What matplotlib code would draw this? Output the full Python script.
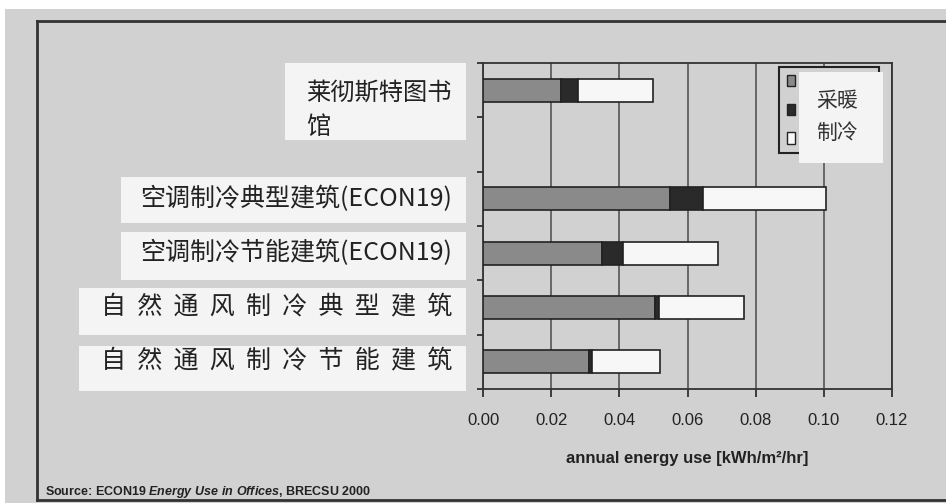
import numpy as np
import matplotlib
matplotlib.use("Agg")
import matplotlib.pyplot as plt
from matplotlib.patches import Rectangle, Patch

# building types, top to bottom (slot 1 is left empty)
labels = ['莱彻斯特图书\n馆',
          '空调制冷典型建筑(ECON19)',
          '空调制冷节能建筑(ECON19)',
          '自  然  通  风  制  冷  典  型  建  筑',
          '自  然  通  风  制  冷  节  能  建  筑']
slots = [0, 2, 3, 4, 5]

# annual energy use, kWh/m2/hr
heating = [0.023, 0.055, 0.035, 0.0505, 0.031]
aux = [0.005, 0.0095, 0.006, 0.001, 0.001]
cooling = [0.022, 0.036, 0.028, 0.025, 0.020]

xticks = [0.00, 0.02, 0.04, 0.06, 0.08, 0.10, 0.12]
legend_text = '采暖\n制冷'
xlabel = 'annual energy use [kWh/m²/hr]'
source = r'Source: ECON19 $\it{Energy\ Use\ in\ Offices}$, BRECSU 2000'

W, H = 946, 503
BG = '#d1d1d1'
INK = '#222222'
CJK = ['Noto Sans CJK SC', 'DejaVu Sans']

plt.rcParams['font.family'] = ['Liberation Sans', 'DejaVu Sans']
plt.rcParams['mathtext.fontset'] = 'custom'
plt.rcParams['mathtext.rm'] = 'Liberation Sans:bold'
plt.rcParams['mathtext.it'] = 'Liberation Sans:italic:bold'

fig = plt.figure(figsize=(W / 100, H / 100), dpi=100, facecolor='white')


def fx(px):
    return px / W


def fy(py):
    return 1 - py / H


def fig_box(x0, y0, x1, y1, **kw):
    r = Rectangle((fx(x0), fy(y1)), fx(x1) - fx(x0), fy(y0) - fy(y1),
                  transform=fig.transFigure, **kw)
    fig.patches.append(r)
    return r


def fig_line(xs, ys):
    fig.add_artist(plt.Line2D([fx(x) for x in xs], [fy(y) for y in ys],
                              transform=fig.transFigure, color='#333333', lw=2))


# scanned page background and outer frame
fig_box(5, 9, W, H, facecolor=BG, edgecolor='none', zorder=-10)
fig_line([37, 37], [21, 500])
fig_line([37, W], [21, 21])
fig_line([37, W], [500, 500])

ax = fig.add_axes([fx(483), fy(389), fx(892) - fx(483), fy(63) - fy(389)])
ax.set_facecolor(BG)

heating = np.array(heating)
aux = np.array(aux)
cooling = np.array(cooling)
bh = 0.42
ax.barh(slots, heating, height=bh, color='#8a8a8a', edgecolor=INK, lw=1.2, zorder=3)
ax.barh(slots, aux, left=heating, height=bh, color='#2a2a2a', edgecolor=INK, lw=1.2, zorder=3)
ax.barh(slots, cooling, left=heating + aux, height=bh, color='#f7f7f7', edgecolor=INK, lw=1.2, zorder=3)

ax.set_xlim(0, 0.12)
ax.set_ylim(5.5, -0.5)
ax.set_xticks(xticks)
ax.set_xticklabels([f'{v:.2f}' for v in xticks], fontsize=12, color=INK)
ax.set_yticks(np.arange(-0.5, 6.0, 1.0))
ax.set_yticklabels([])
ax.tick_params(axis='x', direction='out', length=6, width=1.2, pad=11, colors=INK)
ax.tick_params(axis='y', direction='out', length=4, width=1.2, colors=INK)
ax.xaxis.grid(True, color='#4a4a4a', lw=1.1, zorder=1)
for s in ax.spines.values():
    s.set_color('#333333')
    s.set_linewidth(1.3)
ax.set_xlabel(xlabel, fontsize=12, fontweight='bold', color=INK, labelpad=17)

# category labels on white paper strips
strips = [(285, 63, 466, 140), (121, 177, 466, 223), (121, 232, 466, 280),
          (79, 288, 466, 335), (79, 346, 466, 391)]
for (x0, y0, x1, y1) in strips:
    fig_box(x0, y0, x1, y1, facecolor='#f4f4f4', edgecolor='none', zorder=-5)

tx = (452 - 483) / 409
for lab, s in zip(labels, slots):
    if '\n' in lab:
        ax.text(tx, s - 0.2, lab, transform=ax.get_yaxis_transform(), ha='right', va='top',
                multialignment='left', linespacing=1.45, fontsize=17.5, family=CJK, color=INK)
    else:
        ax.text(tx, s, lab, transform=ax.get_yaxis_transform(), ha='right', va='center',
                fontsize=18, family=CJK, color=INK)

# legend markers, captions pasted on a white patch
handles = [Patch(facecolor='#8a8a8a', edgecolor=INK),
           Patch(facecolor='#2a2a2a', edgecolor=INK),
           Patch(facecolor='#f7f7f7', edgecolor=INK)]
leg = ax.legend(handles, ['', '', ''], loc='upper left',
                bbox_to_anchor=(fx(779), fy(67)), bbox_transform=fig.transFigure,
                fontsize=10, borderpad=0.55, handlelength=0.6, handleheight=0.85,
                handletextpad=5.5, labelspacing=1.05, borderaxespad=0,
                fancybox=False, framealpha=1, facecolor=BG, edgecolor='#222222')
leg.get_frame().set_linewidth(1.5)
leg.set_zorder(5)

fig_box(799, 72, 883, 163, facecolor='#f4f4f4', edgecolor='none', zorder=6)
fig.text(fx(837), fy(117), legend_text, ha='center', va='center', linespacing=1.6,
         fontsize=15, family=CJK, color='#333333', zorder=7)

# source line
fig.text(fx(45), fy(492), source, fontsize=9, fontweight='bold', color=INK, va='center')

fig.savefig('out.png', dpi=100, facecolor=fig.get_facecolor())
